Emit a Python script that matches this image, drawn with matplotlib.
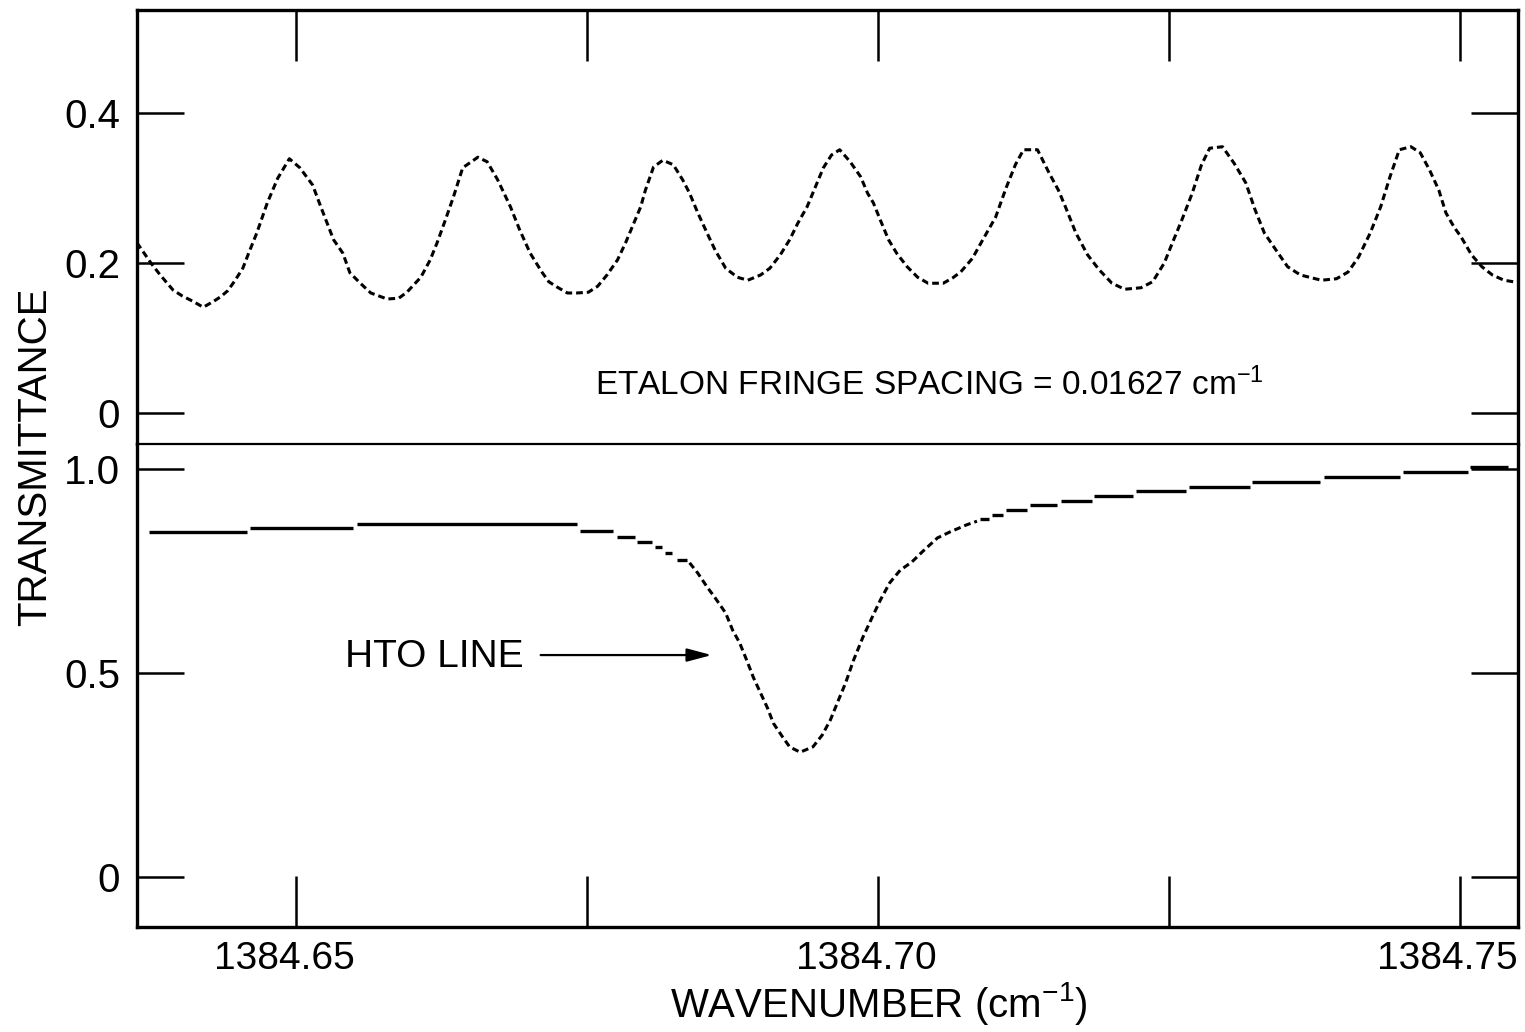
import matplotlib
matplotlib.use("Agg")
import matplotlib.pyplot as plt
from matplotlib.transforms import ScaledTranslation

plt.rcParams['font.family'] = ['Liberation Sans', 'DejaVu Sans']
plt.rcParams['mathtext.fontset'] = 'custom'
plt.rcParams['mathtext.rm'] = 'Liberation Sans'
plt.rcParams['mathtext.it'] = 'Liberation Sans'

# etalon fringes (upper trace)
etalon_wn = [1384.6363, 1384.6375, 1384.6383, 1384.6394, 1384.6402, 1384.6411, 1384.6420,
             1384.6429, 1384.6435, 1384.6441, 1384.6447, 1384.6454, 1384.6459, 1384.6466,
             1384.6475, 1384.6484, 1384.6494, 1384.6503, 1384.6514, 1384.6521, 1384.6527,
             1384.6532, 1384.6540, 1384.6546, 1384.6555, 1384.6564, 1384.6578, 1384.6588,
             1384.6595, 1384.6601, 1384.6607, 1384.6615, 1384.6621, 1384.6628, 1384.6635,
             1384.6643, 1384.6656, 1384.6664, 1384.6673, 1384.6684, 1384.6692, 1384.6701,
             1384.6711, 1384.6717, 1384.6724, 1384.6733, 1384.6741, 1384.6751, 1384.6759,
             1384.6767, 1384.6776, 1384.6783, 1384.6790, 1384.6796, 1384.6800, 1384.6807,
             1384.6815, 1384.6824, 1384.6832, 1384.6838, 1384.6845, 1384.6853, 1384.6860,
             1384.6869, 1384.6879, 1384.6888, 1384.6899, 1384.6907, 1384.6916, 1384.6924,
             1384.6931, 1384.6939, 1384.6946, 1384.6953, 1384.6960, 1384.6967, 1384.6976,
             1384.6985, 1384.6991, 1384.6996, 1384.7002, 1384.7009, 1384.7016, 1384.7025,
             1384.7034, 1384.7043, 1384.7056, 1384.7064, 1384.7071, 1384.7081, 1384.7090,
             1384.7101, 1384.7110, 1384.7118, 1384.7125, 1384.7137, 1384.7147, 1384.7155,
             1384.7161, 1384.7170, 1384.7180, 1384.7190, 1384.7201, 1384.7212, 1384.7226,
             1384.7236, 1384.7246, 1384.7253, 1384.7261, 1384.7270, 1384.7278, 1384.7285,
             1384.7296, 1384.7306, 1384.7316, 1384.7324, 1384.7332, 1384.7343, 1384.7352,
             1384.7363, 1384.7381, 1384.7394, 1384.7404, 1384.7413, 1384.7423, 1384.7432,
             1384.7440, 1384.7448, 1384.7458, 1384.7466, 1384.7474, 1384.7482, 1384.7488,
             1384.7495, 1384.7501, 1384.7510, 1384.7519, 1384.7528, 1384.7538, 1384.7546]
etalon_t = [0.227, 0.200, 0.184, 0.164, 0.156, 0.149, 0.141,
            0.149, 0.155, 0.163, 0.176, 0.193, 0.213, 0.240,
            0.280, 0.313, 0.339, 0.327, 0.304, 0.275, 0.251,
            0.231, 0.213, 0.187, 0.173, 0.160, 0.152, 0.153,
            0.161, 0.171, 0.181, 0.204, 0.227, 0.257, 0.288,
            0.327, 0.341, 0.335, 0.311, 0.275, 0.244, 0.213,
            0.188, 0.175, 0.168, 0.160, 0.160, 0.161, 0.169,
            0.184, 0.204, 0.227, 0.253, 0.275, 0.297, 0.328,
            0.337, 0.331, 0.311, 0.293, 0.267, 0.240, 0.217,
            0.193, 0.181, 0.177, 0.184, 0.193, 0.211, 0.231,
            0.253, 0.275, 0.301, 0.327, 0.344, 0.351, 0.335,
            0.315, 0.293, 0.280, 0.257, 0.231, 0.213, 0.195,
            0.181, 0.173, 0.173, 0.180, 0.188, 0.206, 0.231,
            0.261, 0.300, 0.331, 0.351, 0.351, 0.320, 0.297,
            0.275, 0.240, 0.211, 0.191, 0.173, 0.165, 0.167,
            0.175, 0.200, 0.227, 0.257, 0.293, 0.331, 0.353,
            0.355, 0.333, 0.307, 0.271, 0.240, 0.215, 0.195,
            0.184, 0.177, 0.179, 0.188, 0.208, 0.240, 0.275,
            0.315, 0.351, 0.355, 0.347, 0.324, 0.297, 0.267,
            0.248, 0.235, 0.211, 0.195, 0.184, 0.177, 0.175]

# HTO line: digitised plateaus (start, end, level) in the wings
step_start = [1384.6373, 1384.6460, 1384.6552, 1384.6744, 1384.6776, 1384.6793, 1384.6808,
              1384.6817, 1384.6827,
              1384.7088, 1384.7098, 1384.7110, 1384.7131, 1384.7157, 1384.7186, 1384.7222,
              1384.7267, 1384.7321, 1384.7383, 1384.7451, 1384.7509]
step_end = [1384.6458, 1384.6549, 1384.6741, 1384.6772, 1384.6791, 1384.6806, 1384.6814,
            1384.6823, 1384.6836,
            1384.7095, 1384.7107, 1384.7128, 1384.7154, 1384.7184, 1384.7219, 1384.7265,
            1384.7320, 1384.7380, 1384.7449, 1384.7507, 1384.7541]
step_t = [0.846, 0.855, 0.865, 0.848, 0.833, 0.821, 0.809,
          0.794, 0.777,
          0.877, 0.887, 0.900, 0.912, 0.922, 0.934, 0.946,
          0.956, 0.968, 0.980, 0.993, 1.005]

# HTO line core
line_wn = [1384.6838, 1384.6845, 1384.6853, 1384.6860, 1384.6869, 1384.6875, 1384.6881,
           1384.6887, 1384.6893, 1384.6899, 1384.6905, 1384.6910, 1384.6918, 1384.6924,
           1384.6933, 1384.6944, 1384.6952, 1384.6959, 1384.6966, 1384.6972, 1384.6979,
           1384.6987, 1384.6995, 1384.7002, 1384.7010, 1384.7019, 1384.7029, 1384.7038,
           1384.7051, 1384.7062, 1384.7076, 1384.7085]
line_t = [0.770, 0.745, 0.711, 0.684, 0.647, 0.605, 0.574,
          0.532, 0.488, 0.451, 0.414, 0.377, 0.343, 0.319,
          0.306, 0.319, 0.348, 0.385, 0.434, 0.475, 0.532,
          0.588, 0.637, 0.679, 0.721, 0.752, 0.772, 0.797,
          0.831, 0.846, 0.863, 0.872]

x_ticks = [1384.65, 1384.675, 1384.70, 1384.725, 1384.75]
x_ticklabels = ['1384.65', '', '1384.70', '', '1384.75']
top_yticks = [0, 0.2, 0.4]
top_yticklabels = ['0', '0.2', '0.4']
bot_yticks = [0, 0.5, 1.0]
bot_yticklabels = ['0', '0.5', '1.0']

fig = plt.figure(figsize=(15.25, 10.32), dpi=100)
ax1 = fig.add_axes([0.0898, 0.5698, 0.9056, 0.4205])
ax2 = fig.add_axes([0.0898, 0.1017, 0.9056, 0.4681])

xlim = (1384.6363, 1384.7550)
fs = 29
dash = (0, (2.2, 1.3))

# upper panel
ax1.plot(etalon_wn, etalon_t, color='black', lw=2.2, linestyle=dash)
ax1.set_xlim(*xlim)
ax1.set_ylim(-0.0413, 0.5373)
ax1.set_yticks(top_yticks)
ax1.set_yticklabels(top_yticklabels)
ax1.set_xticks(x_ticks)
ax1.tick_params(axis='x', which='both', bottom=False, top=True, labelbottom=False,
                direction='in', length=37, width=1.8)
ax1.tick_params(axis='y', left=True, right=True, direction='in', length=34, width=1.8,
                labelsize=fs, pad=12)
ax1.spines['bottom'].set_visible(False)
ax1.text(1384.6757, 0.037, 'ETALON FRINGE SPACING = 0.01627 cm$^{-1}$', fontsize=24,
         va='center', ha='left')

# lower panel
ax2.hlines(step_t, step_start, step_end, color='black', lw=2.4)
ax2.plot(line_wn, line_t, color='black', lw=2.2, linestyle=dash)
ax2.set_xlim(*xlim)
ax2.set_ylim(-0.1225, 1.0613)
ax2.set_yticks(bot_yticks)
ax2.set_yticklabels(bot_yticklabels)
ax2.set_xticks(x_ticks)
ax2.set_xticklabels(x_ticklabels)
ax2.tick_params(axis='x', bottom=True, top=False, direction='in', length=37, width=1.8,
                labelsize=28, pad=10)
ax2.tick_params(axis='y', left=True, right=True, direction='in', length=34, width=1.8,
                labelsize=fs, pad=12)
ax2.spines['top'].set_linewidth(1.6)

# tick labels sit a little left of their ticks
shift = ScaledTranslation(-12 / 100, 0, fig.dpi_scale_trans)
for lbl in ax2.get_xticklabels():
    lbl.set_transform(lbl.get_transform() + shift)

ax2.annotate('', xy=(1384.6857, 0.544), xytext=(1384.6710, 0.544),
             arrowprops=dict(arrowstyle='-|>,head_length=1.5,head_width=0.4',
                             color='black', lw=1.6, shrinkA=0, shrinkB=0))
ax2.text(1384.6542, 0.539, 'HTO LINE', fontsize=28, va='center', ha='left')
ax2.set_xlabel('WAVENUMBER (cm$^{-1}$)', fontsize=fs, va='center')
ax2.xaxis.set_label_coords(0.537, -0.158)

for ax in (ax1, ax2):
    for side in ('left', 'right'):
        ax.spines[side].set_linewidth(2.4)
ax2.spines['bottom'].set_linewidth(2.4)
ax1.spines['top'].set_linewidth(2.4)

fig.text(0.023, 0.557, 'TRANSMITTANCE', rotation=90, fontsize=fs, va='center', ha='center')

fig.savefig('out.png', dpi=100)
